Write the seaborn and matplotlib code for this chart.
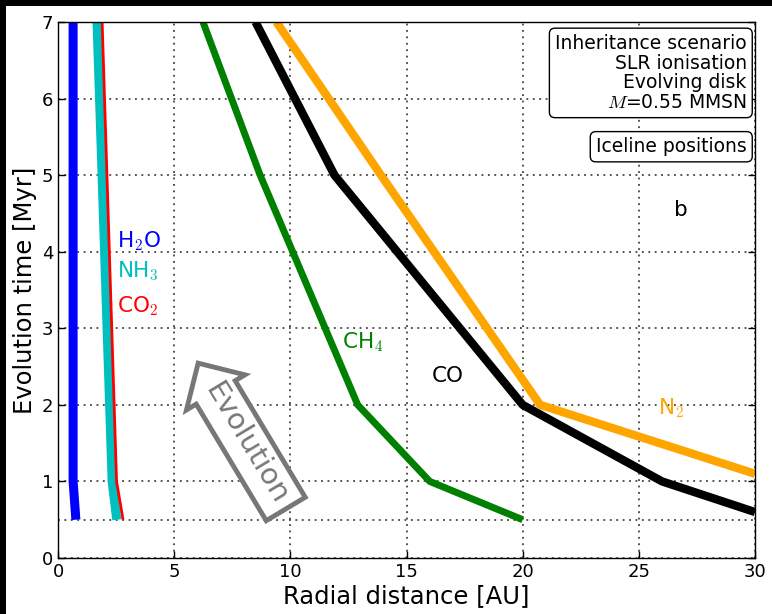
import matplotlib
matplotlib.use("Agg")
import matplotlib.pyplot as plt
from matplotlib.patches import Rectangle
import seaborn as sns
import pandas as pd

# ---- data ----
h2o_t = [7.0, 1.0, 0.5]
h2o_r = [0.65, 0.65, 0.77]
nh3_t = [7.0, 1.0, 0.5]
nh3_r = [1.68, 2.33, 2.53]
co2_t = [7.0, 1.0, 0.5]
co2_r = [1.90, 2.52, 2.80]
ch4_t = [7.0, 5.0, 2.0, 1.0, 0.5]
ch4_r = [6.24, 8.7, 12.9, 16.0, 20.0]
co_t = [7.0, 5.0, 2.0, 1.0, 0.6]
co_r = [8.5, 11.9, 20.0, 26.0, 30.0]
n2_t = [7.0, 5.0, 2.0, 1.1]
n2_r = [9.4, 13.9, 20.75, 30.0]

x_ticks = [0, 5, 10, 15, 20, 25, 30]
y_ticks = [0, 1, 2, 3, 4, 5, 6, 7]

sns.set_style("white")
plt.rcParams["font.family"] = ["DejaVu Sans"]
plt.rcParams["mathtext.fontset"] = "cm"
plt.rcParams["text.color"] = "black"
plt.rcParams["axes.labelcolor"] = "black"
plt.rcParams["xtick.color"] = "black"
plt.rcParams["ytick.color"] = "black"

fig = plt.figure(figsize=(7.72, 6.14), dpi=100)
fig.patch.set_facecolor("white")
ax = fig.add_axes([58 / 772, 1 - 558 / 614, (755 - 58) / 772, (558 - 22) / 614])

series = [
    (h2o_r, h2o_t, "#0000ff", 6.5),
    (nh3_r, nh3_t, "#00bfbf", 6.5),
    (co2_r, co2_t, "#ff0000", 2.0),
    (ch4_r, ch4_t, "#008000", 5.0),
    (co_r, co_t, "#000000", 6.0),
    (n2_r, n2_t, "#ffa500", 6.0),
]
for r, t, c, lw in series:
    df = pd.DataFrame({"r": r, "t": t})
    sns.lineplot(data=df, x="r", y="t", sort=False, estimator=None, color=c,
                 linewidth=lw, ax=ax, solid_capstyle="butt", legend=False)

ax.set_xlim(0, 30)
ax.set_ylim(0, 7)
ax.set_xticks(x_ticks)
ax.set_yticks(y_ticks)
grid_style = dict(linestyle=(0, (1.2, 3.0)), color="#222222", linewidth=1.1)
ax.grid(True, **grid_style)
ax.axhline(0.5, zorder=0, **grid_style)
ax.tick_params(direction="in", length=5, width=1, labelsize=13,
               top=False, right=True, left=True, bottom=True,
               colors="black", labelcolor="black")
for s in ax.spines.values():
    s.set_color("black")
    s.set_linewidth(1.0)
ax.set_xlabel("Radial distance [AU]", fontsize=17.5, labelpad=2, color="black")
ax.set_ylabel("Evolution time [Myr]", fontsize=17.5, labelpad=3, color="black")

# species labels
ax.text(2.54, 4.06, "H$_2$O", color="#0000ff", fontsize=15.5, va="baseline")
ax.text(2.54, 3.66, "NH$_3$", color="#00bfbf", fontsize=15.5, va="baseline")
ax.text(2.54, 3.21, "CO$_2$", color="#ff0000", fontsize=15.5, va="baseline")
ax.text(12.22, 2.74, "CH$_4$", color="#008000", fontsize=15.5, va="baseline")
ax.text(16.1, 2.30, "CO", color="black", fontsize=15.5, va="baseline")
ax.text(25.83, 1.87, "N$_2$", color="#ffa500", fontsize=15.5, va="baseline")
ax.text(26.8, 4.54, "b", color="black", fontsize=15.5, ha="center", va="center")

# info boxes
ax.text(0.988, 0.978,
        "Inheritance scenario\nSLR ionisation\nEvolving disk\n$M$=0.55 MMSN",
        transform=ax.transAxes, ha="right", va="top", fontsize=13.5,
        multialignment="right", linespacing=1.05, color="black",
        bbox=dict(boxstyle="round,pad=0.3", fc="white", ec="black", lw=1))
ax.text(0.988, 0.785, "Iceline positions", transform=ax.transAxes,
        ha="right", va="top", fontsize=13.5, color="black",
        bbox=dict(boxstyle="round,pad=0.3", fc="white", ec="black", lw=1))

# evolution arrow
ax.text(8.1, 1.5, "Evolution", color="#777777", fontsize=21, rotation=-59,
        ha="center", va="center", rotation_mode="anchor",
        bbox=dict(boxstyle="larrow,pad=0.3", fc="white", ec="#777777", lw=3.5))

# dark border strips (as in the reference)
fig.patches.append(Rectangle((0, 1 - 6 / 614), 1, 6 / 614, transform=fig.transFigure,
                             facecolor="black", edgecolor="none", zorder=10))
fig.patches.append(Rectangle((0, 0), 6 / 772, 1, transform=fig.transFigure,
                             facecolor="black", edgecolor="none", zorder=10))

fig.savefig("out.png", dpi=100)
